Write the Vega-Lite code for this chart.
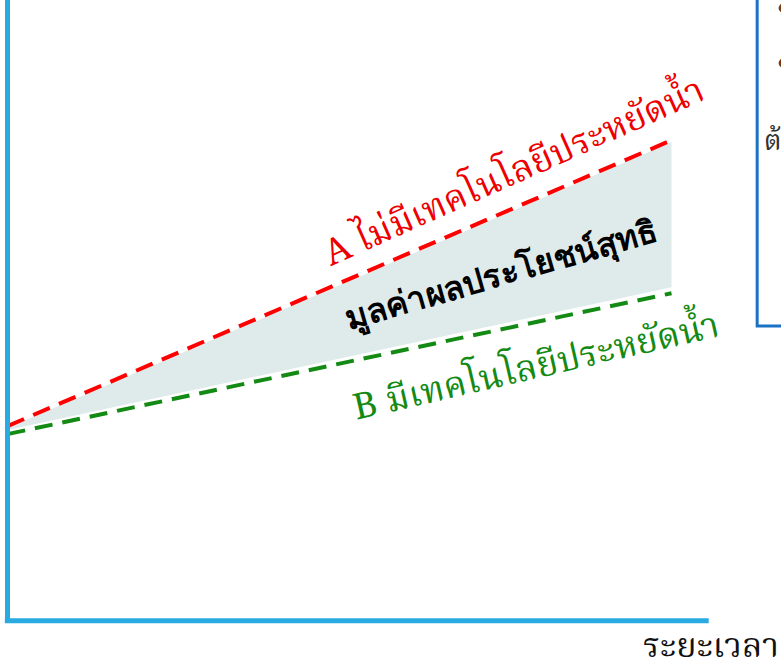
{
  "$schema": "https://vega.github.io/schema/vega-lite/v6.json",
  "width": 781,
  "height": 671,
  "autosize": {"type": "none"},
  "padding": 0,
  "background": "white",
  "config": {"view": {"stroke": null}},
  "datasets": {
    "lines": [
      {"series": "A", "t": 0, "v": 29.0},
      {"series": "A", "t": 100, "v": 71.6},
      {"series": "B", "t": 0, "v": 27.8},
      {"series": "B", "t": 100, "v": 48.8}
    ],
    "band": [
      {"t": 0, "v": 28.7, "v2": 28.4},
      {"t": 100, "v": 71.3, "v2": 49.7}
    ],
    "axes": [
      {"axis": "time", "t": -0.4, "t2": 105.6, "v": 0, "v2": 0},
      {"axis": "value", "t": 0, "t2": 0, "v": -0.35, "v2": 95}
    ],
    "box": [{"t": 112.9, "t2": 125, "v": 43.9, "v2": 100}],
    "bullets": [{"t": 116.8, "v": 91.3}, {"t": 116.8, "v": 83.1}],
    "boxtext": [{"t": 113.9, "v": 70.2, "label": "ต้นทุน"}],
    "labelA": [{"t": 77.0, "v": 65.3, "label": "A ไม่มีเทคโนโลยีประหยัดน้ำ"}],
    "labelB": [{"t": 80.0, "v": 36.2, "label": "B มีเทคโนโลยีประหยัดน้ำ"}],
    "labelNet": [{"t": 74.8, "v": 50.0, "label": "มูลค่าผลประโยชน์สุทธิ"}],
    "xtitle": [{"t": 95.7, "v": -5.4, "label": "ระยะเวลา"}]
  },
  "encoding": {
    "x": {"field": "t", "type": "quantitative", "axis": null, "scale": {"domain": [-1.13, 116.49], "nice": false, "zero": false}},
    "y": {"field": "v", "type": "quantitative", "axis": null, "scale": {"domain": [-7.5, 92.5], "nice": false, "zero": false}}
  },
  "layer": [
    {
      "data": {"name": "box"},
      "mark": {"type": "rect", "fill": "white", "stroke": "#1a72c4", "strokeWidth": 3},
      "encoding": {"x2": {"field": "t2"}, "y2": {"field": "v2"}}
    },
    {
      "data": {"name": "bullets"},
      "mark": {"type": "point", "filled": true, "shape": "circle", "size": 80, "color": "#7a3b10", "opacity": 1},
      "encoding": {}
    },
    {
      "data": {"name": "boxtext"},
      "mark": {"type": "text", "align": "left", "baseline": "alphabetic", "fontSize": 28, "font": "Noto Serif Thai, serif", "color": "#333333"},
      "encoding": {"text": {"field": "label"}}
    },
    {
      "data": {"name": "band"},
      "mark": {"type": "area", "color": "#dfeaea", "opacity": 1},
      "encoding": {"y2": {"field": "v2"}}
    },
    {
      "data": {"name": "lines"},
      "mark": {"type": "line", "strokeDash": [18, 10], "strokeWidth": 4},
      "encoding": {
        "color": {"field": "series", "type": "nominal", "legend": null, "scale": {"domain": ["A", "B"], "range": ["#ff0000", "#138a13"]}}
      }
    },
    {
      "data": {"name": "axes"},
      "mark": {"type": "rule", "color": "#29abe2", "strokeWidth": 5},
      "encoding": {"x2": {"field": "t2"}, "y2": {"field": "v2"}}
    },
    {
      "data": {"name": "labelA"},
      "mark": {"type": "text", "align": "center", "baseline": "alphabetic", "angle": -24, "fontSize": 36, "font": "Noto Serif Thai, serif", "color": "#ee0000"},
      "encoding": {"text": {"field": "label"}}
    },
    {
      "data": {"name": "labelB"},
      "mark": {"type": "text", "align": "center", "baseline": "alphabetic", "angle": -13, "fontSize": 36, "font": "Noto Serif Thai, serif", "color": "#138a13"},
      "encoding": {"text": {"field": "label"}}
    },
    {
      "data": {"name": "labelNet"},
      "mark": {"type": "text", "align": "center", "baseline": "alphabetic", "angle": -16, "fontSize": 33, "fontWeight": "bold", "font": "sans-serif", "color": "#000000"},
      "encoding": {"text": {"field": "label"}}
    },
    {
      "data": {"name": "xtitle"},
      "mark": {"type": "text", "align": "left", "baseline": "alphabetic", "fontSize": 34, "font": "Noto Serif Thai, serif", "color": "#111111"},
      "encoding": {"text": {"field": "label"}}
    }
  ]
}
